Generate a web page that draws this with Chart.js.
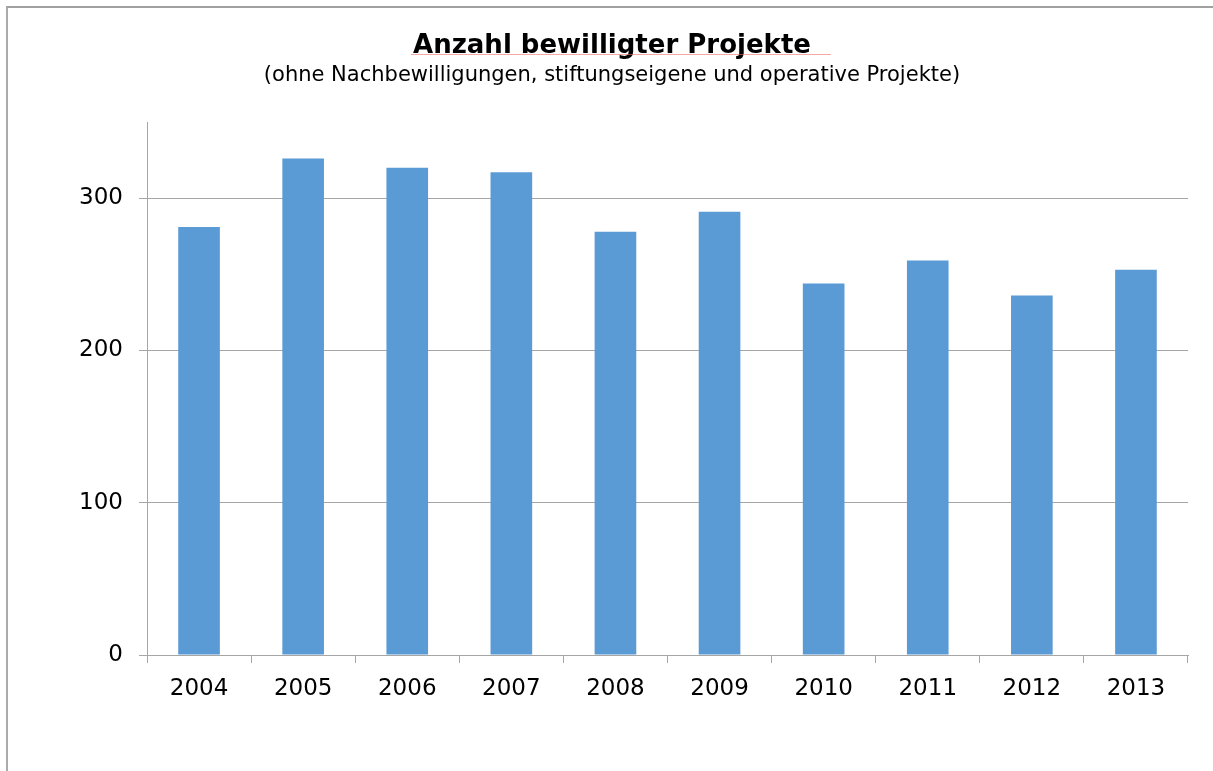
<!DOCTYPE html>
<html>
<head>
<meta charset="utf-8">
<script src="https://cdn.jsdelivr.net/npm/chart.js@4/dist/chart.umd.min.js"></script>
<style>
  html, body { margin: 0; padding: 0; background: #fff; }
  #wrap { position: relative; width: 1213px; height: 771px; overflow: hidden; }
  #frame { position: absolute; left: 6px; top: 6px; width: 1300px; height: 900px;
           border-left: 2px solid #ababab; border-top: 2px solid #a0a0a0; }
  canvas { position: absolute; left: 0; top: 0; }
</style>
</head>
<body>
<div id="wrap">
  <div id="frame"></div>
  <canvas id="c" width="1213" height="771"></canvas>
</div>
<script>
const categories = ["2004", "2005", "2006", "2007", "2008", "2009", "2010", "2011", "2012", "2013"];
const projectCounts = [281, 326, 320, 317, 278, 291, 244, 259, 236, 253];
const yTickValues = [0, 100, 200, 300];
const titleText = "Anzahl bewilligter Projekte";
const subtitleText = "(ohne Nachbewilligungen, stiftungseigene und operative Projekte)";

const FONT = "'DejaVu Sans', Verdana, sans-serif";
const GRID = '#a6a6a6';

// Title and subtitle centred on the whole chart frame (as in the original)
const headerPlugin = {
  id: 'header',
  afterDraw(chart) {
    const ctx = chart.ctx;
    const cx = 612;
    ctx.save();
    ctx.fillStyle = '#000';
    ctx.textAlign = 'center';
    ctx.textBaseline = 'alphabetic';
    ctx.font = "bold 26px " + FONT;
    ctx.fillText(titleText, cx, 53);
    const w = ctx.measureText(titleText).width;
    // faint spell-check underline seen in the original
    ctx.strokeStyle = 'rgba(240,110,110,0.6)';
    ctx.lineWidth = 1;
    ctx.beginPath();
    ctx.moveTo(cx - w / 2 - 2, 54.5);
    ctx.lineTo(cx + w / 2 + 20, 54.5);
    ctx.stroke();
    ctx.font = "21px " + FONT;
    ctx.fillText(subtitleText, cx, 81);
    ctx.restore();
  }
};

new Chart(document.getElementById('c'), {
  type: 'bar',
  data: {
    labels: categories,
    datasets: [{
      data: projectCounts,
      backgroundColor: '#5b9bd5',
      borderWidth: 0,
      categoryPercentage: 1.0,
      barPercentage: 0.4
    }]
  },
  options: {
    responsive: false,
    animation: false,
    devicePixelRatio: 1,
    layout: { padding: { left: 0, right: 25, top: 122, bottom: 0 } },
    plugins: {
      legend: { display: false },
      tooltip: { enabled: false },
      title: { display: false },
      subtitle: { display: false }
    },
    scales: {
      x: {
        grid: { display: true, drawOnChartArea: false, offset: true, color: GRID, tickLength: 8, lineWidth: 1 },
        border: { display: true, color: GRID, width: 1 },
        ticks: { color: '#000', font: { family: FONT, size: 23 }, padding: 12, maxRotation: 0 },
        afterFit(scale) { scale.height = 116; }
      },
      y: {
        min: 0,
        max: 350,
        grid: { color: GRID, tickLength: 8, lineWidth: 1 },
        border: { display: true, color: GRID, width: 1 },
        ticks: { color: '#000', font: { family: FONT, size: 23 }, padding: 16, stepSize: 100 },
        afterBuildTicks(scale) { scale.ticks = yTickValues.map(v => ({ value: v })); },
        afterFit(scale) { scale.width = 147; }
      }
    }
  },
  plugins: [headerPlugin]
});
</script>
</body>
</html>
